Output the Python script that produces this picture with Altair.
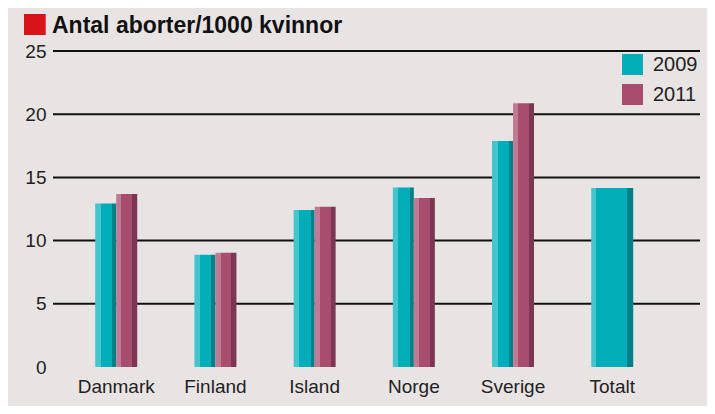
import altair as alt
import pandas as pd

# ---- data ----
countries = ["Danmark", "Finland", "Island", "Norge", "Sverige"]
all_categories = ["Danmark", "Finland", "Island", "Norge", "Sverige", "Totalt"]
values_2009 = [12.93, 8.88, 12.43, 14.2, 17.87]
values_2011 = [13.68, 9.04, 12.67, 13.38, 20.87]
total_label = "Totalt"
total_value = 14.17
years = ["2009", "2011"]
y_ticks = [0, 5, 10, 15, 20, 25]
grid_values = [5, 10, 15, 20, 25]
title_text = "Antal aborter/1000 kvinnor"

rows = []
for c, v in zip(countries, values_2009):
    rows.append({"land": c, "år": years[0], "värde": v})
for c, v in zip(countries, values_2011):
    rows.append({"land": c, "år": years[1], "värde": v})
df = pd.DataFrame(rows)
df_total = pd.DataFrame({"land": [total_label], "värde": [total_value]})
df_grid = pd.DataFrame({"värde": grid_values})
df_title = pd.DataFrame({"titel": [title_text]})

FONT = "Liberation Sans"
TEAL = ["#44c4cc", "#00adb9", "#00818a"]
PLUM = ["#c07a92", "#a94d6f", "#7c3653"]


def grad(cols, a, b):
    return alt.LinearGradient(
        gradient="linear", x1=0, x2=1, y1=0, y2=0,
        stops=[
            alt.GradientStop(color=cols[0], offset=0),
            alt.GradientStop(color=cols[0], offset=a),
            alt.GradientStop(color=cols[1], offset=a),
            alt.GradientStop(color=cols[1], offset=b),
            alt.GradientStop(color=cols[2], offset=b),
            alt.GradientStop(color=cols[2], offset=1),
        ],
    )


x_enc = alt.X(
    "land:N",
    sort=all_categories,
    scale=alt.Scale(domain=all_categories, paddingInner=0, paddingOuter=0.261, align=0.263),
    axis=alt.Axis(title=None, labelFontSize=19, ticks=False, domain=False,
                  labelPadding=10, labelAngle=0, labelColor="#222", labelFont=FONT),
)
y_scale = alt.Scale(domain=[0, 25], nice=False)
y_enc = alt.Y(
    "värde:Q", scale=y_scale,
    axis=alt.Axis(values=y_ticks, title=None, grid=False, domain=False, ticks=False,
                  tickSize=0, labelPadding=7, labelFontSize=19, labelColor="#222",
                  labelFont=FONT),
)

grid = alt.Chart(df_grid).mark_rule(color="#111", strokeWidth=2).encode(y=y_enc)

legend_bars = alt.Chart(df).mark_bar(opacity=0, size=1).encode(
    x=x_enc, y=y_enc,
    color=alt.Color(
        "år:N",
        scale=alt.Scale(domain=years, range=[TEAL[1], PLUM[1]]),
        legend=alt.Legend(title=None, orient="none", legendX=569, legendY=3,
                          symbolType="square", symbolSize=441, labelFontSize=20,
                          labelOffset=10, rowPadding=9, symbolStrokeWidth=0,
                          symbolOpacity=1, labelColor="#222", labelFont=FONT),
    ),
)

bars09 = alt.Chart(df).transform_filter(alt.datum["år"] == years[0]).mark_bar(
    size=21, xOffset=-10.5, color=grad(TEAL, 0.27, 0.81)
).encode(x=x_enc, y=y_enc)

bars11 = alt.Chart(df).transform_filter(alt.datum["år"] == years[1]).mark_bar(
    size=21, xOffset=10.5, color=grad(PLUM, 0.25, 0.76)
).encode(x=x_enc, y=y_enc)

total_bar = alt.Chart(df_total).mark_bar(size=42, color=grad(TEAL, 0.12, 0.86)).encode(
    x=x_enc, y=y_enc
)

square = alt.Chart(df_title).mark_rect(color="#d7141a").encode(
    x=alt.value(-29), x2=alt.value(-7.3), y=alt.value(-37), y2=alt.value(-16)
)

title = alt.Chart(df_title).mark_text(
    align="left", baseline="alphabetic", font=FONT, fontSize=23, fontWeight="bold",
    color="#111"
).encode(x=alt.value(-1), y=alt.value(-17.7), text="titel:N")

chart = alt.layer(grid, legend_bars, bars09, bars11, total_bar, square, title).properties(
    width=647,
    height=316,
    autosize=alt.AutoSizeParams(type="none"),
    padding={"left": 45, "top": 43, "right": 7, "bottom": 39},
).configure(
    background="#e9e4e4",
    font=FONT,
).configure_view(stroke=None)

chart.save("out.html", embed_options={"renderer": "svg", "actions": False})
